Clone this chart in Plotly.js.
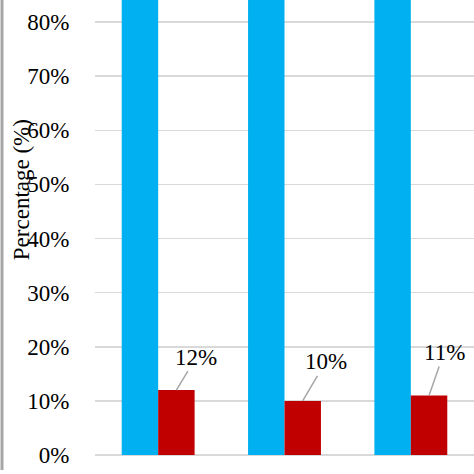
<!DOCTYPE html>
<html>
<head>
<meta charset="utf-8">
<script src="https://cdn.plot.ly/plotly-3.0.1.min.js"></script>
<style>
  html, body { margin: 0; padding: 0; background: #fff; }
  #chart { width: 474px; height: 474px; }
</style>
</head>
<body>
<div id="chart"></div>
<script>
// groups on the x axis (their labels are cut off in the source picture)
var categories = [ 'Group 1', 'Group 2', 'Group 3' ];

// blue bars run past the top of the picture, red bars are labelled
var blueValues = [ 88, 90, 89 ];
var redValues = [ 12, 10, 11 ];
var redLabels = [ '12%', '10%', '11%' ];

var yTicks = [ 0, 10, 20, 30, 40, 50, 60, 70, 80 ];
var yTickText = [ '0%', '10%', '20%', '30%', '40%', '50%', '60%', '70%', '80%' ];

// offsets of the label text from the bar top, in pixels
var labelDx = [ 20, 23, 15 ];
var labelDy = [ -33, -39, -43 ];

var serif = 'Liberation Serif';

var blueTrace = {
    x: categories,
    y: blueValues,
    type: 'bar',
    marker: { color: '#00B0F0' },
    hoverinfo: 'none'
};

var redTrace = {
    x: categories,
    y: redValues,
    type: 'bar',
    marker: { color: '#C00000' },
    hoverinfo: 'none'
};

// label + grey leader line for every red bar
var annotations = [];
for ( let i = 0; i < categories.length; ++i ) {
    annotations.push({
        x: i + 0.144,
        y: redValues[ i ],
        xref: 'x',
        yref: 'y',
        text: redLabels[ i ],
        showarrow: true,
        arrowhead: 0,
        arrowwidth: 1.5,
        arrowcolor: '#a6a6a6',
        ax: labelDx[ i ],
        ay: labelDy[ i ],
        font: { family: serif, size: 23, color: '#000' }
    });
}

// axis title sits off centre because the top of the chart is cropped
annotations.push({
    text: 'Percentage (%)',
    xref: 'paper',
    yref: 'paper',
    x: -74 / 379,
    y: 0.582,
    xanchor: 'center',
    yanchor: 'middle',
    showarrow: false,
    textangle: -90,
    font: { family: serif, size: 23, color: '#000' }
});

var layout = {
    width: 474,
    height: 474,
    margin: { l: 95, r: 0, t: 0, b: 19 },
    paper_bgcolor: '#fff',
    plot_bgcolor: '#fff',
    showlegend: false,
    barmode: 'group',
    bargap: 0.423,
    bargroupgap: 0,
    font: { family: serif, size: 23, color: '#000' },
    xaxis: {
        range: [ -0.5, 2.5 ],
        showticklabels: false,
        showgrid: false,
        zeroline: false,
        showline: false,
        ticks: ''
    },
    yaxis: {
        range: [ 0, 84.07 ],
        tickmode: 'array',
        tickvals: yTicks,
        ticktext: yTickText,
        showgrid: true,
        gridcolor: '#d9d9d9',
        gridwidth: 1.5,
        zeroline: true,
        zerolinecolor: '#d9d9d9',
        zerolinewidth: 1.5,
        showline: false,
        // invisible ticks just push the labels away from the plot
        ticks: 'outside',
        ticklen: 20,
        tickcolor: 'rgba(0,0,0,0)',
        tickfont: { family: serif, size: 23, color: '#000' }
    },
    annotations: annotations,
    shapes: [{
        // grey frame edge at the far left
        type: 'line',
        xref: 'paper',
        yref: 'paper',
        x0: -93 / 379,
        x1: -93 / 379,
        y0: -15 / 455,
        y1: 1.05,
        line: { color: '#a6a6a6', width: 3 }
    }]
};

Plotly.newPlot( 'chart', [ blueTrace, redTrace ], layout, { staticPlot: true } );
</script>
</body>
</html>
